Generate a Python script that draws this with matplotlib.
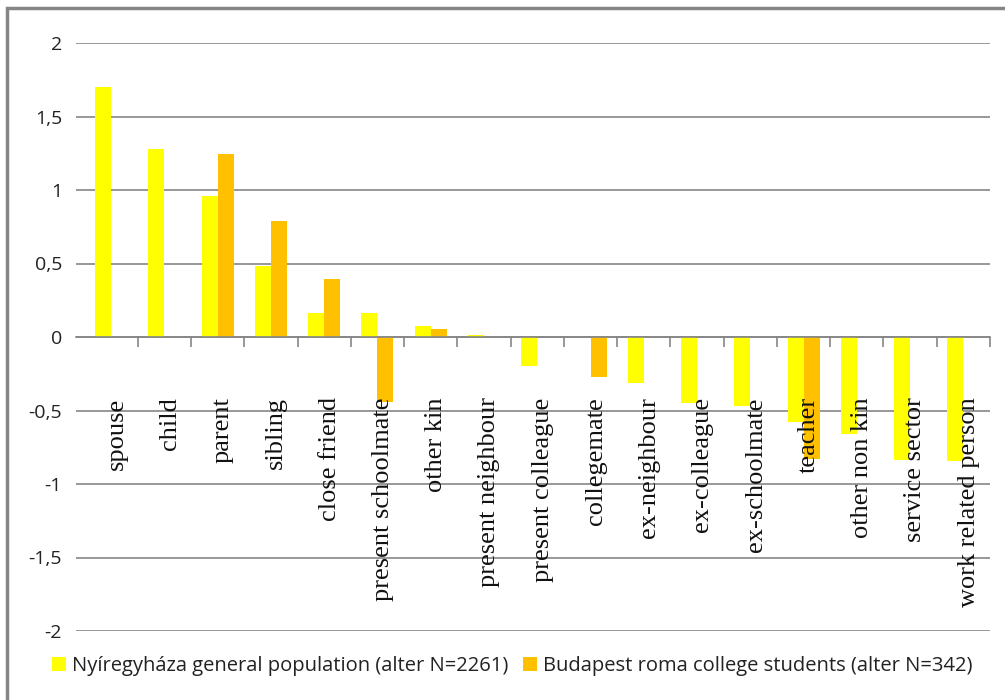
import numpy as np
import matplotlib.pyplot as plt
from matplotlib.patches import Rectangle
from matplotlib.ticker import FuncFormatter

categories = ['spouse', 'child', 'parent', 'sibling', 'close friend', 'present schoolmate',
              'other kin', 'present neighbour', 'present colleague', 'collegemate',
              'ex-neighbour', 'ex-colleague', 'ex-schoolmate', 'teacher', 'other non kin',
              'service sector', 'work related person']
nyiregyhaza = [1.70, 1.28, 0.96, 0.48, 0.16, 0.16, 0.075, 0.015, -0.20, 0.0,
               -0.315, -0.45, -0.47, -0.58, -0.66, -0.835, -0.845]
budapest = [0.0, 0.0, 1.245, 0.79, 0.395, -0.44, 0.055, 0.0, 0.0, -0.27,
            0.0, 0.0, 0.0, -0.83, 0.0, 0.0, 0.0]
labels = ['Nyíregyháza general population (alter N=2261)',
          'Budapest roma college students (alter N=342)']

grey = '#868686'
fig = plt.figure(figsize=(10.05, 7), dpi=100)
ax = fig.add_axes([76/1005, 69/700, 914/1005, 588/700])

x = np.arange(len(categories))
w = 0.3
b1 = ax.bar(x - w/2, nyiregyhaza, w, color='#FFFF00', label=labels[0], zorder=2)
b2 = ax.bar(x + w/2, budapest, w, color='#FFC000', label=labels[1], zorder=2)

ax.set_ylim(-2, 2)
ax.set_xlim(-0.66, 16.5)
ax.set_yticks(np.arange(-2, 2.01, 0.5))
ax.yaxis.set_major_formatter(FuncFormatter(lambda v, p: ('%g' % v).replace('.', ',')))
ax.yaxis.grid(True, color=grey, linewidth=1.2, zorder=0)
ax.tick_params(axis='y', length=0, pad=10, labelsize=14, labelcolor='#222222')
for t in ax.get_yticklabels():
    t.set_fontfamily('Open Sans')

ax.set_xticks(np.arange(0.5, 16.6, 1))
ax.set_xticklabels([])
ax.tick_params(axis='x', length=7, width=1.2, color=grey, direction='out')
for s in ['left', 'right', 'top']:
    ax.spines[s].set_visible(False)
ax.spines['bottom'].set_position(('data', 0))
ax.spines['bottom'].set_color(grey)
ax.spines['bottom'].set_linewidth(1.2)

for i, c in enumerate(categories):
    ax.text(i + 0.1, -0.41, c, rotation=90, ha='center', va='top',
            fontsize=19, family='Liberation Serif', color='#111111', zorder=3)

leg = fig.legend(handles=[b1, b2], loc='lower left', bbox_to_anchor=(34/1005, 6/700),
                 ncol=2, frameon=False, handlelength=0.7, handleheight=0.7,
                 handletextpad=0.3, columnspacing=0.7,
                 prop={'family': 'Open Sans', 'size': 14.5})
for t in leg.get_texts():
    t.set_color('#222222')

fig.add_artist(Rectangle((7/1005, -0.1), 1.2, 1 - 8/700 + 0.1, transform=fig.transFigure,
                         fill=False, edgecolor=grey, linewidth=2.5, zorder=0))

fig.savefig('out.png', dpi=100)
